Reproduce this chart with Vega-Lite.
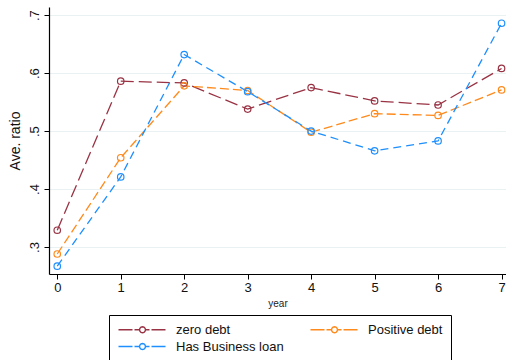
{
  "$schema": "https://vega.github.io/schema/vega-lite/v6.json",
  "autosize": "none",
  "width": 457,
  "height": 267,
  "padding": {"left": 49, "top": 7, "right": 0, "bottom": 86},
  "background": "white",
  "config": {
    "view": {"stroke": null},
    "font": "Liberation Sans"
  },
  "data": {
    "values": [
      {"year": 0, "series": "zero debt", "ratio": 0.329},
      {"year": 1, "series": "zero debt", "ratio": 0.586},
      {"year": 2, "series": "zero debt", "ratio": 0.583},
      {"year": 3, "series": "zero debt", "ratio": 0.538},
      {"year": 4, "series": "zero debt", "ratio": 0.575},
      {"year": 5, "series": "zero debt", "ratio": 0.552},
      {"year": 6, "series": "zero debt", "ratio": 0.545},
      {"year": 7, "series": "zero debt", "ratio": 0.608},
      {"year": 0, "series": "Positive debt", "ratio": 0.288},
      {"year": 1, "series": "Positive debt", "ratio": 0.454},
      {"year": 2, "series": "Positive debt", "ratio": 0.578},
      {"year": 3, "series": "Positive debt", "ratio": 0.570},
      {"year": 4, "series": "Positive debt", "ratio": 0.498},
      {"year": 5, "series": "Positive debt", "ratio": 0.530},
      {"year": 6, "series": "Positive debt", "ratio": 0.527},
      {"year": 7, "series": "Positive debt", "ratio": 0.571},
      {"year": 0, "series": "Has Business loan", "ratio": 0.267},
      {"year": 1, "series": "Has Business loan", "ratio": 0.421},
      {"year": 2, "series": "Has Business loan", "ratio": 0.632},
      {"year": 3, "series": "Has Business loan", "ratio": 0.568},
      {"year": 4, "series": "Has Business loan", "ratio": 0.500},
      {"year": 5, "series": "Has Business loan", "ratio": 0.466},
      {"year": 6, "series": "Has Business loan", "ratio": 0.483},
      {"year": 7, "series": "Has Business loan", "ratio": 0.686}
    ]
  },
  "encoding": {
    "x": {
      "field": "year",
      "type": "quantitative",
      "scale": {"domain": [-0.13, 7.07], "nice": false, "zero": false},
      "axis": {
        "title": "year",
        "titleFontSize": 10,
        "titleFontWeight": "normal",
        "titleColor": "#222",
        "titlePadding": 4,
        "values": [0, 1, 2, 3, 4, 5, 6, 7],
        "format": "d",
        "labelFontSize": 13,
        "labelColor": "#111",
        "labelPadding": 2,
        "tickColor": "#000",
        "tickSize": 5,
        "domainColor": "#000",
        "domainWidth": 1.2,
        "grid": false
      }
    },
    "y": {
      "field": "ratio",
      "type": "quantitative",
      "scale": {"domain": [0.2535, 0.714], "nice": false, "zero": false},
      "axis": {
        "title": "Ave. ratio",
        "titleFontSize": 14,
        "titleFontWeight": "normal",
        "titleColor": "#111",
        "titlePadding": 6,
        "values": [0.3, 0.4, 0.5, 0.6, 0.7],
        "labelExpr": "substring(format(datum.value, '.1f'), 1)",
        "labelAngle": -90,
        "labelAlign": "center",
        "labelBaseline": "bottom",
        "labelFontSize": 13,
        "labelColor": "#111",
        "labelPadding": 3,
        "tickColor": "#000",
        "tickSize": 5,
        "domainColor": "#000",
        "domainWidth": 1.2,
        "grid": true,
        "gridColor": "#E9F1F2",
        "gridWidth": 1.2
      }
    }
  },
  "layer": [
    {
      "transform": [{"filter": "datum.series === 'zero debt'"}],
      "mark": {"type": "line", "strokeWidth": 1.3, "color": "#993344", "strokeDash": [13, 5]}
    },
    {
      "transform": [{"filter": "datum.series === 'Positive debt'"}],
      "mark": {"type": "line", "strokeWidth": 1.3, "color": "#FF8A1C", "strokeDash": [9, 4]}
    },
    {
      "transform": [{"filter": "datum.series === 'Has Business loan'"}],
      "mark": {"type": "line", "strokeWidth": 1.3, "color": "#1E8FFF", "strokeDash": [8, 5]}
    },
    {
      "mark": {"type": "point", "shape": "circle", "filled": false, "size": 42, "strokeWidth": 1.2, "opacity": 1},
      "encoding": {
        "color": {
          "field": "series",
          "type": "nominal",
          "scale": {
            "domain": ["zero debt", "Positive debt", "Has Business loan"],
            "range": ["#993344", "#FF8A1C", "#1E8FFF"]
          },
          "legend": {
            "title": null,
            "orient": "none",
            "legendX": 60,
            "legendY": 308,
            "direction": "horizontal",
            "columns": 2,
            "columnPadding": 23,
            "rowPadding": 3,
            "padding": 8,
            "strokeColor": "#000",
            "fillColor": "white",
            "labelFontSize": 13,
            "labelColor": "#111",
            "labelOffset": 46,
            "symbolType": "M-1,0H1.8M2.2,0H3.2M4.4,0H5.2M5.6,0H8.4M4.4,0L4.32,0.3L4.1,0.52L3.8,0.6L3.5,0.52L3.28,0.3L3.2,0L3.28,-0.3L3.5,-0.52L3.8,-0.6L4.1,-0.52L4.32,-0.3Z",
            "symbolSize": 100,
            "symbolStrokeWidth": 1.4,
            "symbolFillColor": "white",
            "symbolOpacity": 1
          }
        }
      }
    }
  ]
}
